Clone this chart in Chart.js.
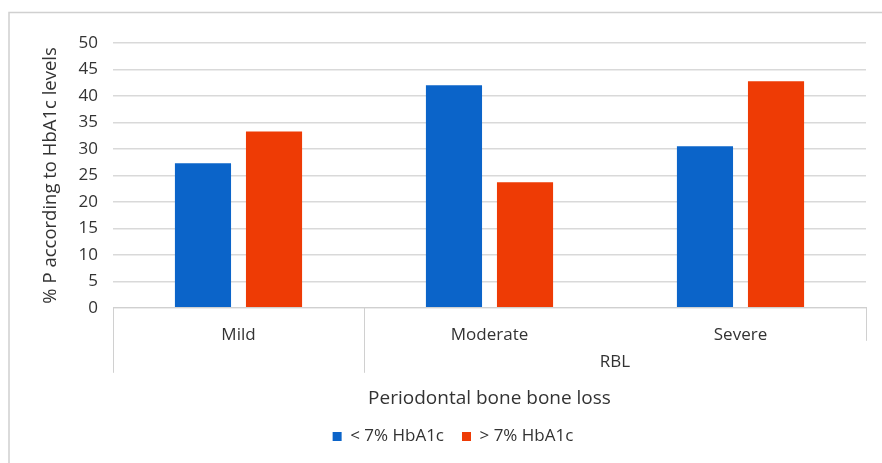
<!DOCTYPE html>
<html>
<head>
<meta charset="utf-8">
<script src="https://cdn.jsdelivr.net/npm/chart.js@4/dist/chart.umd.min.js"></script>
<style>
  html, body { margin: 0; padding: 0; background: #ffffff; }
  #wrap { width: 882px; height: 463px; position: relative; }
</style>
</head>
<body>
<div id="wrap"><canvas id="chart" width="882" height="463"></canvas></div>
<script>
// Relative bone loss categories and the share of patients in each HbA1c group
const categories = ['Mild', 'Moderate', 'Severe'];
const belowSeven = [27.3, 42.0, 30.5];
const aboveSeven = [33.3, 23.7, 42.8];
const seriesNames = ['< 7% HbA1c', '> 7% HbA1c'];
const groupLabel = 'RBL';
const xTitle = 'Periodontal bone bone loss';
const yTitle = '% P according to HbA1c levels';
const yMax = 50;
const yStep = 5;

const FONT = '"Open Sans", Lato, sans-serif';
const TEXT = '#333333';

// Frame, category dividers below the axis and the group label
const decorations = {
  id: 'decorations',
  beforeDraw(chart) {
    const ctx = chart.ctx;
    ctx.save();
    ctx.strokeStyle = '#d0d0d0';
    ctx.lineWidth = 1.5;
    ctx.beginPath();
    ctx.moveTo(9, 463);
    ctx.lineTo(9, 12.5);
    ctx.lineTo(882, 12.5);
    ctx.stroke();
    ctx.restore();
  },
  afterDraw(chart) {
    const ctx = chart.ctx;
    const x = chart.scales.x;
    const area = chart.chartArea;
    const half = (x.getPixelForValue(1) - x.getPixelForValue(0)) / 2;
    ctx.save();
    ctx.strokeStyle = '#d0d0d0';
    ctx.lineWidth = 1;
    const lines = [
      [x.getPixelForValue(0) - half, 65],
      [x.getPixelForValue(1) - half, 65],
      [x.getPixelForValue(2) + half, 33]
    ];
    lines.forEach(([px, len]) => {
      ctx.beginPath();
      ctx.moveTo(Math.round(px) + 0.5, area.bottom);
      ctx.lineTo(Math.round(px) + 0.5, area.bottom + len);
      ctx.stroke();
    });
    ctx.fillStyle = TEXT;
    ctx.font = '17px ' + FONT;
    ctx.textAlign = 'center';
    ctx.textBaseline = 'middle';
    ctx.fillText(groupLabel, (x.getPixelForValue(1) + x.getPixelForValue(2)) / 2, area.bottom + 54);
    ctx.restore();
  }
};

new Chart(document.getElementById('chart'), {
  type: 'bar',
  data: {
    labels: categories,
    datasets: [
      { label: seriesNames[0], data: belowSeven, backgroundColor: '#0b64c9', categoryPercentage: 0.566, barPercentage: 0.79 },
      { label: seriesNames[1], data: aboveSeven, backgroundColor: '#ee3b05', categoryPercentage: 0.566, barPercentage: 0.79 }
    ]
  },
  options: {
    responsive: false,
    animation: false,
    layout: { padding: { left: 40, right: 16, top: 43, bottom: 8 } },
    plugins: {
      legend: {
        position: 'bottom',
        labels: {
          boxWidth: 9, boxHeight: 9, padding: 18,
          color: TEXT, font: { family: FONT, size: 17 }
        }
      },
      tooltip: { enabled: false }
    },
    scales: {
      x: {
        grid: { display: false },
        border: { display: true, color: '#d0d0d0' },
        ticks: { color: TEXT, font: { family: FONT, size: 17 }, padding: 9 },
        title: {
          display: true, text: xTitle, color: TEXT,
          font: { family: FONT, size: 19 }, padding: { top: 33, bottom: 0 }
        }
      },
      y: {
        min: 0, max: yMax,
        afterFit(scale) { scale.width = 73; },
        grid: { color: '#d9d9d9', lineWidth: 1.5, drawTicks: false },
        border: { display: false },
        ticks: { stepSize: yStep, color: TEXT, font: { family: FONT, size: 17 }, padding: 15 },
        title: {
          display: true, text: yTitle, color: TEXT,
          font: { family: FONT, size: 18.5 }, padding: { top: 0, bottom: 4 }
        }
      }
    }
  },
  plugins: [decorations]
});
</script>
</body>
</html>
